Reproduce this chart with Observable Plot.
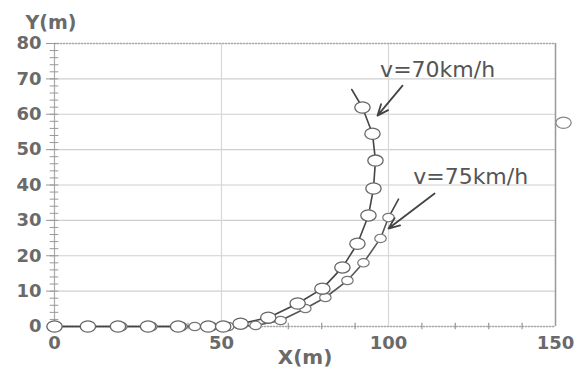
<!DOCTYPE html>
<html>
<head>
<meta charset="utf-8">
<script src="https://cdn.jsdelivr.net/npm/d3@7"></script>
<script src="https://cdn.jsdelivr.net/npm/@observablehq/plot@0.6"></script>
<style>
  html, body { margin: 0; padding: 0; background: #fff; }
  #chart svg { display: block; }
</style>
</head>
<body>
<div id="chart"></div>
<script>
// v = 70 km/h trajectory (large markers)
const x70 = [0, 10, 19, 28, 37, 46, 50.5, 55.7, 64, 72.8, 80.2, 86.2, 90.7, 94, 95.5, 96.1, 95.2, 92.2];
const y70 = [0, 0, 0, 0, 0, 0, 0, 0.8, 2.5, 6.5, 10.7, 16.7, 23.4, 31.4, 39, 46.9, 54.5, 61.9];
const x70Tail = [92.2, 89];
const y70Tail = [61.9, 67];
// v = 75 km/h trajectory (small markers)
const x75 = [0, 10, 20, 29, 38, 42, 47, 52, 60.2, 67.7, 75.1, 81.1, 87.7, 92.5, 97.6, 100];
const y75 = [0, 0, 0, 0, 0, 0, 0, 0, 0.3, 1.7, 5.1, 8.2, 13, 18, 24.9, 30.8];
const x75Tail = [100, 103];
const y75Tail = [30.8, 36];
// stray marker at the right border
const xStray = [152.4];
const yStray = [57.6];
// annotations
const labels = ["v=70km/h", "v=75km/h"];
const labelX = [114.7, 124.6];
const labelY = [72.6, 42.2];
const arrowX1 = [104.2, 113.8];
const arrowY1 = [68.1, 37.6];
const arrowX2 = [96.7, 100];
const arrowY2 = [59.6, 27.7];
// ticks
const xTicks = [0, 50, 100, 150];
const yTicks = [0, 10, 20, 30, 40, 50, 60, 70, 80];
const yMinor = d3.range(0, 81, 2);
const xMinor = [10, 20, 30, 40, 60, 70, 80, 90, 110, 120, 130, 140];

const zip = (xs, ys) => xs.map((x, i) => ({x, y: ys[i]}));
const s70 = zip(x70, y70);
const s75 = zip(x75, y75);
const t70 = zip(x70Tail, y70Tail);
const t75 = zip(x75Tail, y75Tail);
const stray = zip(xStray, yStray);
const notes = labels.map((t, i) => ({t, x: labelX[i], y: labelY[i]}));
const arrows = arrowX1.map((x1, i) => ({x1, y1: arrowY1[i], x2: arrowX2[i], y2: arrowY2[i]}));

function ellipseSymbol(kx, ky) {
  return {
    draw(ctx, size) {
      const r = Math.sqrt(size / Math.PI);
      const rx = r * kx, ry = r * ky, k = 0.5523;
      ctx.moveTo(rx, 0);
      ctx.bezierCurveTo(rx, ry * k, rx * k, ry, 0, ry);
      ctx.bezierCurveTo(-rx * k, ry, -rx, ry * k, -rx, 0);
      ctx.bezierCurveTo(-rx, -ry * k, -rx * k, -ry, 0, -ry);
      ctx.bezierCurveTo(rx * k, -ry, rx, -ry * k, rx, 0);
      ctx.closePath();
    }
  };
}

const font = "DejaVu Sans, Verdana, sans-serif";

const chart = Plot.plot({
  width: 578,
  height: 376,
  marginLeft: 54,
  marginRight: 23,
  marginTop: 43,
  marginBottom: 50,
  style: {fontFamily: font, background: "#fff"},
  x: {domain: [0, 150]},
  y: {domain: [0, 80]},
  marks: [
    Plot.gridY(yTicks, {stroke: "#cfcfcf", strokeOpacity: 1, strokeWidth: 1.2}),
    Plot.gridX([50, 100], {stroke: "#d8d8d8", strokeOpacity: 1, strokeWidth: 1.2}),
    Plot.ruleY([80], {stroke: "#aaa", strokeWidth: 1.5, strokeDasharray: "2,1"}),
    Plot.ruleX([150], {stroke: "#999", strokeWidth: 1.5}),
    Plot.ruleY([0], {stroke: "#aaa", strokeWidth: 1.5, strokeDasharray: "2,1"}),
    Plot.ruleX([0], {stroke: "#aaa", strokeWidth: 1.2}),
    Plot.ruleY(yMinor, {y: d => d, x1: -1.3, x2: 1.3, stroke: "#999", strokeWidth: 1}),
    Plot.ruleX(xMinor, {x: d => d, y1: -0.9, y2: 0.9, stroke: "#999", strokeWidth: 1.2}),
    Plot.axisY(yTicks, {tickSize: 8, tickPadding: 5, stroke: "#999", fill: "#6a6a6a", fontSize: 18, fontWeight: "bold", label: null}),
    Plot.axisX(xTicks, {tickSize: 0, tickPadding: 10, fill: "#6a6a6a", fontSize: 18, fontWeight: "bold", label: null}),
    Plot.text(["Y(m)"], {frameAnchor: "top-left", lineAnchor: "middle", dx: -29, dy: -21, textAnchor: "start", fill: "#6a6a6a", fontSize: 19, fontWeight: "bold"}),
    Plot.text(["X(m)"], {frameAnchor: "bottom", lineAnchor: "middle", dy: 31, fill: "#6a6a6a", fontSize: 20, fontWeight: "bold"}),
    Plot.line(t70, {x: "x", y: "y", stroke: "#444", strokeWidth: 1.6}),
    Plot.line(t75, {x: "x", y: "y", stroke: "#444", strokeWidth: 1.6}),
    Plot.line(s75, {x: "x", y: "y", stroke: "#555", strokeWidth: 1.6}),
    Plot.line(s70, {x: "x", y: "y", stroke: "#444", strokeWidth: 1.6}),
    Plot.dot(s75, {x: "x", y: "y", r: 4.4, symbol: ellipseSymbol(1.3, 0.95), fill: "white", stroke: "#777", strokeWidth: 1.2}),
    Plot.dot(s70, {x: "x", y: "y", r: 5.9, symbol: ellipseSymbol(1.3, 0.95), fill: "white", stroke: "#666", strokeWidth: 1.3}),
    Plot.dot(stray, {x: "x", y: "y", r: 5.9, symbol: ellipseSymbol(1.3, 0.95), fill: "white", stroke: "#888", strokeWidth: 1.3}),
    Plot.arrow(arrows, {x1: "x1", y1: "y1", x2: "x2", y2: "y2", stroke: "#444", strokeWidth: 1.8, headLength: 10, headAngle: 45}),
    Plot.text(notes, {x: "x", y: "y", text: "t", fill: "#555", fontSize: 22})
  ]
});
document.getElementById("chart").appendChild(chart);
</script>
</body>
</html>
